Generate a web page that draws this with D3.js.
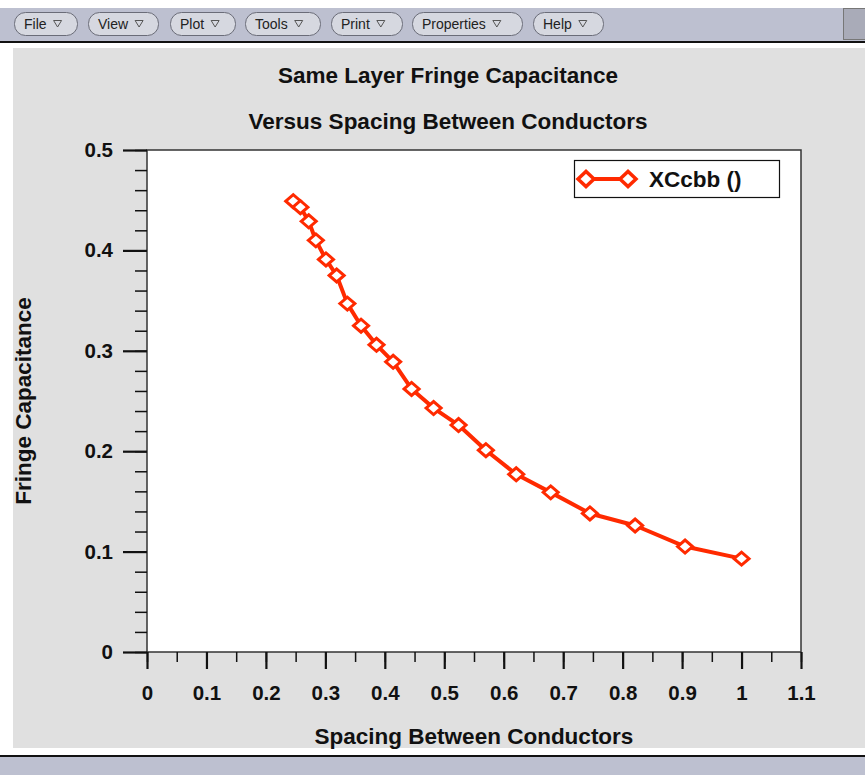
<!DOCTYPE html>
<html>
<head>
<meta charset="utf-8">
<script src="https://cdn.jsdelivr.net/npm/d3@7"></script>
<style>
  html, body { margin: 0; padding: 0; background: #ffffff; }
  svg { display: block; }
  text { font-family: "Liberation Sans", Arial, Helvetica, sans-serif; }
</style>
</head>
<body>
<svg id="chart" width="865" height="775"></svg>
<script>
// ---- data ----
const chartTitle = ["Same Layer Fringe Capacitance", "Versus Spacing Between Conductors"];
const xAxisTitle = "Spacing Between Conductors";
const yAxisTitle = "Fringe Capacitance";
const seriesName = "XCcbb ()";
const menuItems = ["File", "View", "Plot", "Tools", "Print", "Properties", "Help"];
const spacing = [0.246, 0.258, 0.272, 0.284, 0.301, 0.319, 0.337, 0.360, 0.386, 0.414,
                 0.445, 0.482, 0.524, 0.570, 0.621, 0.679, 0.745, 0.821, 0.905, 1.0];
const capacitance = [0.449, 0.443, 0.429, 0.410, 0.391, 0.375, 0.347, 0.325, 0.306, 0.289,
                     0.262, 0.243, 0.226, 0.201, 0.177, 0.159, 0.138, 0.126, 0.105, 0.093];
const xTicks = [0, 0.1, 0.2, 0.3, 0.4, 0.5, 0.6, 0.7, 0.8, 0.9, 1, 1.1];
const yTicks = [0, 0.1, 0.2, 0.3, 0.4, 0.5];

(function () {
const svg = d3.select("#chart");
const W = 865, H = 775;
const red = "#ff2a00";
const titleSize = 22.5, tickSize = 20.5;

// ---- window chrome ----
svg.append("rect").attr("x", 0).attr("y", 8).attr("width", W).attr("height", 33).attr("fill", "#bdc0d0");
svg.append("rect").attr("x", 0).attr("y", 41).attr("width", W).attr("height", 2).attr("fill", "#111");
svg.append("rect").attr("x", 13).attr("y", 48).attr("width", W - 13).attr("height", 700).attr("fill", "#e0e0e0");
svg.append("rect").attr("x", 843.5).attr("y", 8.5).attr("width", 25).attr("height", 31)
   .attr("fill", "#a9abb8").attr("stroke", "#777").attr("stroke-width", 1);
svg.append("rect").attr("x", 0).attr("y", 755).attr("width", W).attr("height", 2).attr("fill", "#111");
svg.append("rect").attr("x", 0).attr("y", 757).attr("width", W).attr("height", 18).attr("fill", "#bdc0d0");

// menu buttons
const menuX = [14, 88, 170, 245, 331, 412, 533];
const menuW = [63, 70, 65, 75, 71, 110, 70];
const menu = svg.append("g");
menuItems.forEach((m, i) => {
  const g = menu.append("g").attr("transform", `translate(${menuX[i]},12)`);
  g.append("rect").attr("x", 0.5).attr("y", 0.5).attr("width", menuW[i]).attr("height", 23).attr("rx", 11)
    .attr("fill", "#d6d8e0").attr("stroke", "#6a6c78").attr("stroke-width", 1);
  const t = g.append("text").attr("x", 10).attr("y", 17).attr("font-size", 14)
    .attr("font-family", "'DejaVu Sans Condensed', 'Liberation Sans Narrow', sans-serif")
    .attr("fill", "#222").text(m);
  const tw = t.node().getComputedTextLength();
  const ax = 10 + tw + 7;
  g.append("path").attr("d", `M${ax},8.5 L${ax + 8},8.5 L${ax + 4},15 Z`)
    .attr("fill", "none").attr("stroke", "#555").attr("stroke-width", 1);
});

// ---- plot ----
const pLeft = 147, pRight = 801, pTop = 150, pBottom = 652;
const x = d3.scaleLinear().domain([0, 1.1]).range([pLeft, pRight]);
const y = d3.scaleLinear().domain([0, 0.5]).range([pBottom, pTop]);

svg.append("rect").attr("x", pLeft).attr("y", pTop).attr("width", pRight - pLeft).attr("height", pBottom - pTop)
   .attr("fill", "#fff").attr("stroke", "#333").attr("stroke-width", 1.5);

// titles
svg.append("text").attr("x", 448).attr("y", 83).attr("text-anchor", "middle")
   .attr("font-size", titleSize).attr("font-weight", "bold").attr("fill", "#111").text(chartTitle[0]);
svg.append("text").attr("x", 448).attr("y", 129).attr("text-anchor", "middle")
   .attr("font-size", titleSize).attr("font-weight", "bold").attr("fill", "#111").text(chartTitle[1]);

// x axis
const xMinor = d3.range(0, 1.1001, 0.05).map(v => +v.toFixed(2));
const xAxisMinor = d3.axisBottom(x).tickValues(xMinor).tickSize(10).tickFormat("");
const gxm = svg.append("g").attr("transform", `translate(0,${pBottom})`).call(xAxisMinor);
gxm.select(".domain").remove();
gxm.selectAll("line").attr("stroke", "#111").attr("stroke-width", 1.5);

const xAxis = d3.axisBottom(x).tickValues(xTicks).tickSize(17).tickPadding(16)
  .tickFormat(d => d3.format("")(+d.toFixed(1)));
const gx = svg.append("g").attr("transform", `translate(0,${pBottom})`).call(xAxis);
gx.select(".domain").remove();
gx.selectAll("line").attr("stroke", "#111").attr("stroke-width", 2.2);
gx.selectAll("text").attr("font-size", tickSize).attr("font-weight", "bold").attr("fill", "#111")
  .attr("font-family", "'Liberation Sans', Arial, sans-serif");

// y axis
const yMinor = d3.range(0, 0.5001, 0.02).map(v => +v.toFixed(2));
const yAxisMinor = d3.axisLeft(y).tickValues(yMinor).tickSize(12).tickFormat("");
const gym = svg.append("g").attr("transform", `translate(${pLeft},0)`).call(yAxisMinor);
gym.select(".domain").remove();
gym.selectAll("line").attr("stroke", "#111").attr("stroke-width", 1.5);

const yAxis = d3.axisLeft(y).tickValues(yTicks).tickSize(24).tickPadding(10)
  .tickFormat(d => d3.format("")(+d.toFixed(1)));
const gy = svg.append("g").attr("transform", `translate(${pLeft},0)`).call(yAxis);
gy.select(".domain").remove();
gy.selectAll("line").attr("stroke", "#111").attr("stroke-width", 2.2);
gy.selectAll("text").attr("font-size", tickSize).attr("font-weight", "bold").attr("fill", "#111")
  .attr("font-family", "'Liberation Sans', Arial, sans-serif");

// axis titles
svg.append("text").attr("x", 474).attr("y", 744).attr("text-anchor", "middle")
   .attr("font-size", titleSize).attr("font-weight", "bold").attr("fill", "#111").text(xAxisTitle);
svg.append("text").attr("transform", "translate(31,401) rotate(-90)").attr("text-anchor", "middle")
   .attr("font-size", titleSize).attr("font-weight", "bold").attr("fill", "#111").text(yAxisTitle);

// series
const pts = spacing.map((s, i) => [s, capacitance[i]]);
const line = d3.line().x(d => x(d[0])).y(d => y(d[1]));
svg.append("path").datum(pts).attr("d", line).attr("fill", "none")
   .attr("stroke", red).attr("stroke-width", 4).attr("stroke-linejoin", "round");

const diamond = (cx, cy, hw, hh) => `M${cx - hw},${cy} L${cx},${cy - hh} L${cx + hw},${cy} L${cx},${cy + hh} Z`;
svg.append("g").selectAll("path").data(pts).join("path")
   .attr("d", d => diamond(x(d[0]), y(d[1]), 7.5, 6.5))
   .attr("fill", "#fff").attr("stroke", red).attr("stroke-width", 3);

// legend
const lg = svg.append("g");
lg.append("rect").attr("x", 574.5).attr("y", 160.5).attr("width", 205).attr("height", 37)
  .attr("fill", "#fff").attr("stroke", "#111").attr("stroke-width", 1.2);
lg.append("line").attr("x1", 586).attr("x2", 628).attr("y1", 179).attr("y2", 179)
  .attr("stroke", red).attr("stroke-width", 4);
[586, 628].forEach(cx => {
  lg.append("path").attr("d", diamond(cx, 179, 8, 7.5)).attr("fill", "#fff")
    .attr("stroke", red).attr("stroke-width", 3.5);
});
lg.append("text").attr("x", 649).attr("y", 187).attr("font-size", titleSize).attr("font-weight", "bold")
  .attr("fill", "#111").text(seriesName);
})();
</script>
</body>
</html>
